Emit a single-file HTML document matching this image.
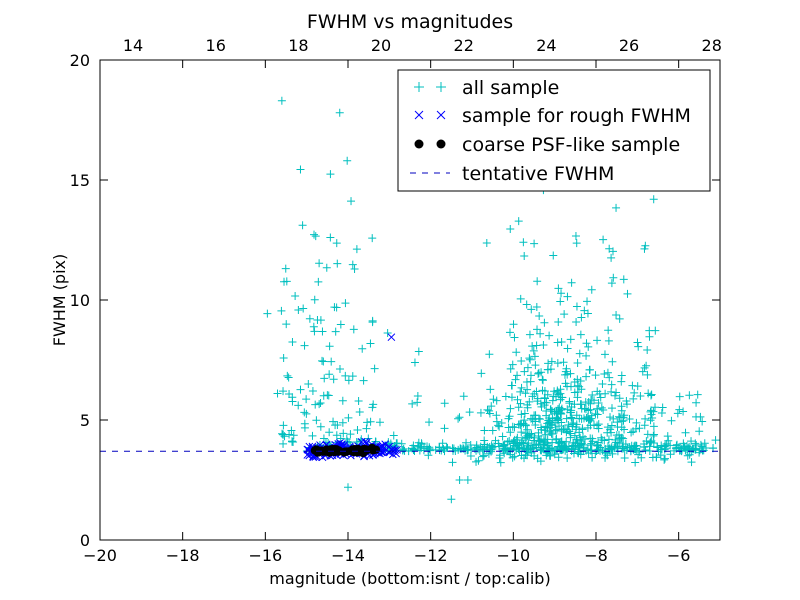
<!DOCTYPE html>
<html><head><meta charset="utf-8"><style>
body{margin:0;background:#fff}
svg{display:block;font-family:"DejaVu Sans","Liberation Sans",sans-serif}
</style></head><body>
<svg id="s" width="800" height="600" viewBox="0 0 800 600" xmlns="http://www.w3.org/2000/svg">
<rect width="800" height="600" fill="#fff"/>
<g id="pts"></g>
<line x1="100" y1="451.2" x2="720" y2="451.2" stroke="#0000bf" stroke-width="1" stroke-dasharray="6,6"/>
<rect x="100" y="60" width="620" height="480" fill="none" stroke="#000" stroke-width="1"/>
<g id="ticks" font-size="16" fill="#000"></g>
<text x="410" y="28" font-size="19" text-anchor="middle">FWHM vs magnitudes</text>
<text x="410" y="584" font-size="16" text-anchor="middle">magnitude (bottom:isnt / top:calib)</text>
<text transform="translate(65,300) rotate(-90)" font-size="16" text-anchor="middle">FWHM (pix)</text>
<g>
<rect x="398" y="70" width="312" height="121" fill="#fff" stroke="#000"/>
<g stroke="#00bfbf"><line x1="414" y1="87" x2="424" y2="87"/><line x1="419" y1="82" x2="419" y2="92"/><line x1="436" y1="87" x2="446" y2="87"/><line x1="441" y1="82" x2="441" y2="92"/></g>
<g stroke="#0000ff"><line x1="415" y1="111" x2="423" y2="119"/><line x1="415" y1="119" x2="423" y2="111"/><line x1="437" y1="111" x2="445" y2="119"/><line x1="437" y1="119" x2="445" y2="111"/></g>
<circle cx="419" cy="144" r="4.5"/><circle cx="441" cy="144" r="4.5"/>
<line x1="410" y1="173" x2="450" y2="173" stroke="#0000bf" stroke-dasharray="6,6"/>
<g font-size="19"><text x="462" y="94">all sample</text><text x="462" y="122">sample for rough FWHM</text><text x="462" y="151">coarse PSF-like sample</text><text x="462" y="180">tentative FWHM</text></g>
</g>
</svg>
<script>
function X(v){return 100+(v+20)*620/15}function Y(v){return 540-v*24}
var seed=777;function r(){seed=(seed*1103515245+12345)%2147483648;return seed/2147483648}
function n(){return (r()+r()+r()-1.5)*1.4}
var g=document.getElementById("pts"),h="";
function plus(x,y){var a=X(x),b=Y(y);if(a<100||a>720||b<60||b>540)return;h+='<path d="M'+(a-4)+' '+b+'h8M'+a+' '+(b-4)+'v8" stroke="#00bfbf" fill="none"/>'}
var i,x,y;
for(i=0;i<300;i++){x=-15+r()*9.9;y=3.7+Math.abs(n())*0.25;plus(x,y)}
for(i=0;i<110;i++){x=-15.6+r()*2.3;y=4+r()*r()*14.5;plus(x,y)}
for(i=0;i<20;i++){x=-16+r()*4;y=4+r()*6;plus(x,y)}
for(i=0;i<320;i++){x=-8.9+n()*1.1;y=3.5+Math.abs(n())*3.0;plus(x,y)}
for(i=0;i<200;i++){x=-10.8+r()*4.3;y=3.4+r()*r()*15.5;plus(x,y)}
for(i=0;i<40;i++){x=-12.5+r()*6.5;y=3.2+r()*3;plus(x,y)}
for(i=0;i<60;i++){x=-8+r()*2.6;y=3.2+r()*3;plus(x,y)}
plus(-15.6,18.3);plus(-14.2,17.8);plus(-11.5,1.7);plus(-11.3,2.5);plus(-11.1,2.5);plus(-14,2.2);
for(i=0;i<140;i++){x=-15+r()*2.2;y=3.75+n()*0.22;var a=X(x),b=Y(y);h+='<path d="M'+(a-3.5)+' '+(b-3.5)+'l7 7M'+(a-3.5)+' '+(b+3.5)+'l7 -7" stroke="#0000ff" fill="none"/>'}
h+='<path d="M'+(X(-12.95)-3.5)+' '+(Y(8.45)-3.5)+'l7 7m-7 0l7 -7" stroke="#0000ff"/>';
for(i=0;i<70;i++){x=-14.85+r()*1.55;y=3.72+n()*0.07;h+='<circle cx="'+X(x)+'" cy="'+Y(y)+'" r="4" fill="#000"/>'}
g.innerHTML=h;
var t="";
for(var v=-20;v<=-6;v+=2){var a=X(v);t+='<text x="'+a+'" y="561" text-anchor="middle">\u2212'+(-v)+'</text><path d="M'+a+' 540v-8M'+a+' 60v8" stroke="#000"/>'}
for(v=14;v<=28;v+=2){a=X(v-33.2);t+='<text x="'+a+'" y="51" text-anchor="middle">'+v+'</text>'}
for(v=0;v<=20;v+=5){var b=Y(v);t+='<text x="90" y="'+(b+6)+'" text-anchor="end">'+v+'</text><path d="M100 '+b+'h8M720 '+b+'h-8" stroke="#000"/>'}
document.getElementById("ticks").innerHTML=t;
</script>
</body></html>
